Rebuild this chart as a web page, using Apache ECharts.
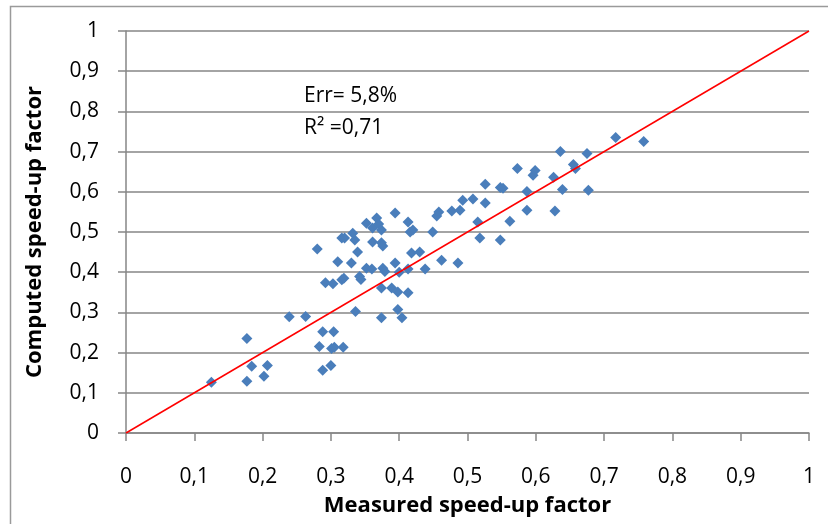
<!DOCTYPE html>
<html>
<head>
<meta charset="utf-8">
<script src="https://cdn.jsdelivr.net/npm/echarts@6/dist/echarts.min.js"></script>
<style>
  html, body { margin: 0; padding: 0; background: #fff; }
  #chart { width: 828px; height: 524px; }
</style>
</head>
<body>
<div id="chart"></div>
<script>
// measured vs computed speed-up factor
const measured = [
  0.125, 0.177, 0.177, 0.184, 0.202, 0.207, 0.239, 0.263, 0.280, 0.283,
  0.288, 0.288, 0.292, 0.303, 0.300, 0.301, 0.305, 0.304, 0.318, 0.316,
  0.319, 0.310, 0.316, 0.320, 0.330, 0.332, 0.335, 0.336, 0.339, 0.342,
  0.344, 0.352, 0.352, 0.360, 0.361, 0.361, 0.367, 0.370, 0.374, 0.374,
  0.376, 0.376, 0.379, 0.374, 0.374, 0.389, 0.394, 0.394, 0.398, 0.398,
  0.400, 0.404, 0.413, 0.413, 0.413, 0.416, 0.418, 0.420, 0.430, 0.438,
  0.449, 0.455, 0.458, 0.462, 0.477, 0.486, 0.489, 0.493, 0.508, 0.515,
  0.518, 0.526, 0.526, 0.548, 0.552, 0.548, 0.562, 0.573, 0.587, 0.587,
  0.596, 0.599, 0.626, 0.628, 0.636, 0.639, 0.655, 0.658, 0.675, 0.677,
  0.717, 0.758
];
const computed = [
  0.126, 0.235, 0.129, 0.166, 0.141, 0.168, 0.289, 0.290, 0.458, 0.215,
  0.156, 0.252, 0.374, 0.371, 0.168, 0.210, 0.213, 0.252, 0.213, 0.381,
  0.385, 0.426, 0.485, 0.485, 0.423, 0.497, 0.480, 0.302, 0.450, 0.389,
  0.382, 0.410, 0.522, 0.408, 0.510, 0.475, 0.535, 0.520, 0.505, 0.473,
  0.465, 0.410, 0.402, 0.361, 0.287, 0.361, 0.547, 0.423, 0.351, 0.307,
  0.400, 0.287, 0.408, 0.349, 0.525, 0.500, 0.448, 0.505, 0.450, 0.408,
  0.500, 0.540, 0.550, 0.430, 0.552, 0.423, 0.554, 0.579, 0.582, 0.525,
  0.485, 0.619, 0.572, 0.611, 0.609, 0.480, 0.527, 0.658, 0.554, 0.601,
  0.641, 0.653, 0.636, 0.552, 0.700, 0.606, 0.668, 0.658, 0.695, 0.604,
  0.735, 0.725
];
const identityLine = [[0, 0], [1, 1]];
const annotations = ['Err= 5,8%', 'R² =0,71'];

const points = measured.map((x, i) => [x, computed[i]]);
const fmt = v => String(Math.round(v * 10) / 10).replace('.', ',');
const font = '"Open Sans", Lato, sans-serif';
const axisGray = '#868686';

const chart = echarts.init(document.getElementById('chart'));
chart.setOption({
  backgroundColor: '#fff',
  animation: false,
  grid: { left: 126, right: 19, top: 31, bottom: 91 },
  xAxis: {
    type: 'value', min: 0, max: 1, interval: 0.1,
    name: 'Measured speed-up factor', nameLocation: 'middle', nameGap: 62,
    nameTextStyle: { fontFamily: font, fontSize: 22, fontWeight: 'bold', color: '#000' },
    axisLine: { lineStyle: { color: axisGray, width: 1.5 } },
    axisTick: { show: true, length: 8, lineStyle: { color: axisGray, width: 1.5 } },
    axisLabel: { formatter: fmt, fontFamily: font, fontSize: 21, color: '#000', margin: 34 },
    splitLine: { show: false }
  },
  yAxis: {
    type: 'value', min: 0, max: 1, interval: 0.1,
    name: 'Computed speed-up factor', nameLocation: 'middle', nameGap: 80,
    nameTextStyle: { fontFamily: font, fontSize: 22, fontWeight: 'bold', color: '#000' },
    axisLine: { show: true, lineStyle: { color: axisGray, width: 1.5 } },
    axisTick: { show: true, length: 8, lineStyle: { color: axisGray, width: 1.5 } },
    axisLabel: { formatter: fmt, fontFamily: font, fontSize: 21, color: '#000', margin: 27 },
    splitLine: { lineStyle: { color: axisGray, width: 1.5 } }
  },
  series: [
    {
      type: 'scatter',
      data: points,
      symbol: 'diamond',
      symbolSize: [11, 11],
      itemStyle: { color: '#4a7ebb', opacity: 1 },
      z: 3
    },
    {
      type: 'line',
      data: identityLine,
      showSymbol: false,
      lineStyle: { color: '#ff0000', width: 1.5 },
      z: 4
    }
  ],
  graphic: [
    // chart-area frame, its right and bottom edges fall outside the picture
    { type: 'rect', z: -1, shape: { x: 10.5, y: 6.5, width: 900, height: 600 },
      style: { fill: 'none', stroke: '#9a9a9a', lineWidth: 1.5 } },
    { type: 'text', left: 304, top: 86, style: { text: annotations[0], font: '21px ' + font, fill: '#000' } },
    { type: 'text', left: 304, top: 118, style: { text: annotations[1], font: '21px ' + font, fill: '#000' } }
  ]
});
</script>
</body>
</html>
